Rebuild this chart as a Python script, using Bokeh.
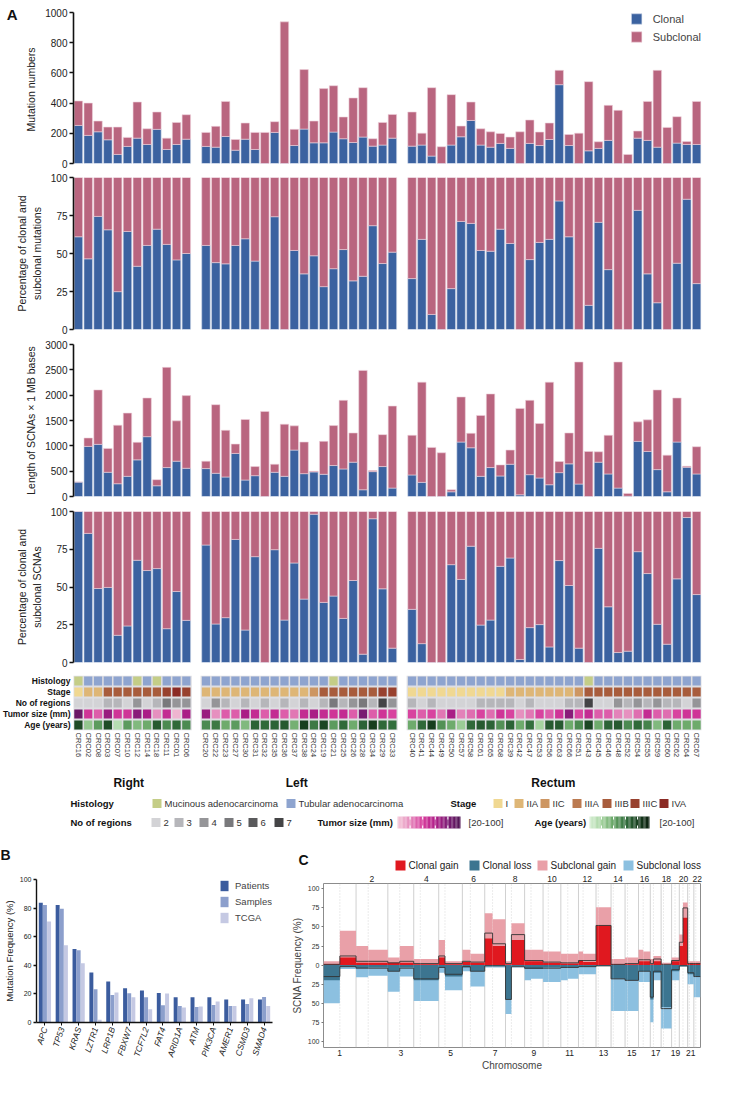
import numpy as np
from bokeh.plotting import figure
from bokeh.models import (Range1d, FactorRange, FixedTicker, Legend, LegendItem,
                          LinearAxis, ColumnDataSource)
from bokeh.transform import dodge
from bokeh.layouts import column, row
from bokeh.core.properties import value
from bokeh.embed import file_html
from bokeh.resources import INLINE

FONT = "Liberation Sans, Arial, Helvetica, sans-serif"
CLONAL = "#3b62a0"
SUBCLONAL = "#b9657f"

# ---------------- Panel A data ----------------
right_samples = ["CRC16", "CRC02", "CRC08", "CRC03", "CRC07", "CRC10", "CRC12", "CRC14", "CRC18",
                 "CRC11", "CRC01", "CRC06"]
left_samples = ["CRC20", "CRC22", "CRC23", "CRC27", "CRC30", "CRC31", "CRC32", "CRC35", "CRC36",
                "CRC37", "CRC38", "CRC24", "CRC19", "CRC21", "CRC25", "CRC26", "CRC28", "CRC34",
                "CRC29", "CRC33"]
rectum_samples = ["CRC40", "CRC41", "CRC44", "CRC49", "CRC50", "CRC57", "CRC58", "CRC61", "CRC65",
                  "CRC68", "CRC39", "CRC42", "CRC47", "CRC53", "CRC56", "CRC63", "CRC66", "CRC51",
                  "CRC43", "CRC45", "CRC46", "CRC48", "CRC52", "CRC54", "CRC55", "CRC59", "CRC60",
                  "CRC62", "CRC64", "CRC67"]
group_names = ["Right", "Left", "Rectum"]

mutation_total = [414, 400, 281, 241, 241, 173, 407, 230, 341, 168, 272, 323,
                  206, 246, 411, 159, 268, 206, 206, 277, 938, 226, 622, 281, 496, 515, 308, 434, 502, 164, 272, 325,
                  341, 201, 502, 111, 456, 248, 407, 230, 210, 199, 175, 210, 288, 208, 268, 617, 192, 201, 542, 144,
                  385, 352, 60, 215, 411, 617, 239, 310, 146, 411]
mutation_clonal = [252, 186, 210, 157, 60, 113, 168, 126, 226, 93, 126, 161,
                   113, 108, 179, 88, 161, 93, 0, 206, 0, 119, 228, 137, 137, 208, 164, 139, 175, 115, 122, 168,
                   115, 122, 49, 0, 122, 177, 285, 122, 108, 133, 100, 0, 133, 119, 159, 522, 119, 0, 84, 100,
                   153, 0, 0, 168, 153, 108, 0, 135, 126, 126]
mutation_clonal_pct = [61, 46.5, 74.4, 65.6, 24.9, 64.5, 41.6, 55.3, 66, 56, 45.8, 50,
                       55.3, 44, 43.2, 55.3, 59.7, 45, 0, 74.2, 0, 52, 36.6, 48.5, 28.2, 40, 52.6, 32, 35, 68.3, 43.4, 50.9,
                       33.5, 59.3, 9.9, 0, 26.9, 71.1, 69.8, 52, 51.5, 66, 56.6, 0, 46, 57.3, 59.3, 84.6, 61, 0, 15.9, 70.5,
                       39.4, 0, 0, 78.4, 36.6, 17.6, 0, 43.6, 85.7, 30.2]
scna_total = [285, 1155, 2104, 949, 1407, 1646, 1069, 1945, 332, 2549, 1493, 1991,
              697, 1812, 1307, 1035, 1520, 591, 1679, 637, 1427, 1394, 1075, 498, 1088, 1400, 1898, 1254, 2489, 511, 1221, 1785,
              1208, 2257, 969, 863, 133, 1965, 1248, 1600, 2024, 624, 916, 1739, 1898, 1440, 2257, 690, 1254, 2655, 889, 883,
              1208, 2655, 60, 1473, 1513, 2104, 816, 1945, 597, 982]
scna_clonal = [285, 989, 1029, 478, 252, 398, 723, 1181, 212, 571, 697, 557,
               551, 458, 385, 850, 325, 411, 0, 478, 398, 916, 451, 485, 438, 611, 544, 677, 133, 491, 591, 166,
               425, 279, 0, 0, 93, 1075, 962, 398, 571, 405, 637, 33, 431, 365, 232, 471, 644, 246, 0, 677,
               445, 166, 5, 1088, 889, 531, 93, 1075, 577, 445]
scna_clonal_pct = [100, 85.5, 49, 49.7, 18, 24.2, 67.7, 60.9, 62.2, 22.4, 47, 27.9,
                   77.8, 25.5, 29.7, 81.5, 21.5, 70.1, 0, 74.7, 28.1, 65.9, 42, 98.2, 39.8, 44, 29.2, 54.3, 5.5, 95.2, 48.8, 9.5,
                   35.2, 12.5, 0, 0, 64.8, 55, 77, 24.8, 28.1, 63.7, 69.2, 2, 23.1, 25.1, 10.3, 67.5, 51, 9.5, 0, 75.6,
                   36.9, 6.6, 7.5, 73.4, 58.9, 25.3, 12.1, 55.4, 96, 45]
histology = ["M", "T", "T", "T", "T", "T", "M", "T", "M", "T", "T", "T",
             "T", "T", "T", "T", "T", "T", "T", "T", "T", "T", "T", "T", "T", "M", "T", "T", "T", "T", "T", "T",
             "T", "T", "T", "T", "T", "T", "T", "T", "T", "T", "T", "T", "T", "T", "T", "T", "T", "T", "M", "T",
             "T", "T", "T", "T", "T", "T", "T", "T", "T", "T"]
stage = ["I", "IIA", "IIA", "IIIB", "IIIB", "IIIB", "IIIB", "IIIB", "IIIB", "IIIC", "IVA", "IIIC",
         "IIA", "IIA", "IIA", "IIA", "IIA", "IIA", "IIA", "IIA", "IIA", "IIA", "IIA", "IIC", "IIIB", "IIIB",
         "IIIB", "IIIB", "IIIB", "IIIB", "IIIC", "IIIC",
         "I", "I", "I", "I", "I", "I", "I", "I", "I", "I", "IIA", "IIA", "IIA", "IIA", "IIA", "IIA", "IIA",
         "IIC", "IIIB", "IIIB", "IIIB", "IIIB", "IIIB", "IIIB", "IIIB", "IIIB", "IIIB", "IIIB", "IIIB", "IIIB"]
n_regions = [2, 2, 2, 3, 3, 2, 4, 2, 3, 5, 4, 4,
             2, 4, 3, 2, 3, 2, 3, 2, 3, 2, 3, 2, 3, 5, 3, 4, 5, 3, 7, 4,
             3, 2, 3, 2, 2, 2, 2, 3, 3, 3, 3, 2, 3, 2, 2, 2, 3, 3, 7, 2, 2, 4, 3, 4, 3, 4, 3, 3, 2, 4]
tumor_size = [90, 55, 45, 75, 55, 55, 80, 70, 35, 60, 25, 70,
              75, 35, 45, 45, 70, 60, 45, 60, 45, 40, 60, 70, 60, 55, 60, 45, 85, 45, 55, 50,
              50, 45, 50, 40, 70, 38, 42, 50, 42, 55, 50, 35, 40, 50, 45, 55, 80, 50, 60, 45,
              45, 38, 35, 42, 60, 45, 42, 50, 55, 55]
age = [80, 40, 55, 80, 30, 55, 45, 50, 75, 60, 70, 60,
       60, 65, 50, 55, 45, 72, 70, 72, 75, 48, 85, 65, 82, 55, 70, 50, 72, 85, 70, 68,
       50, 70, 85, 58, 50, 38, 70, 75, 72, 58, 72, 50, 68, 35, 75, 75, 50, 60, 82, 50,
       72, 75, 60, 70, 62, 45, 72, 50, 50, 50]

# ---------------- Panel B data ----------------
genes = ["APC", "TP53", "KRAS", "LZTR1", "LRP1B", "FBXW7", "TCF7L2", "FAT4", "ARID1A", "ATM",
         "PIK3CA", "AMER1", "CSMD3", "SMAD4"]
freq_patients = [83.7, 82.1, 51.4, 34.9, 28.6, 24.0, 22.3, 20.7, 17.7, 17.7, 17.7, 16.0, 16.0, 16.0]
freq_samples = [82.1, 79.5, 50.5, 23.3, 19.3, 20.5, 17.7, 12.1, 11.6, 10.9, 12.3, 11.6, 13.0, 17.9]
freq_tcga = [70.7, 54.0, 41.4, 1.9, 21.0, 17.7, 9.3, 20.2, 10.5, 11.2, 14.7, 11.6, 17.0, 11.6]

# ---------------- Panel C data (per chromosome: p arm, q arm) ----------------
chrom_names = [str(i) for i in range(1, 23)]
chrom_size = [249, 243, 198, 191, 181, 171, 159, 146, 141, 136, 135, 134, 115, 107, 103, 90, 83, 80,
              59, 64, 47, 51]
centromere = [125, 93, 91, 50, 48, 61, 60, 45, 49, 40, 53, 35, 17, 17, 19, 36, 24, 18, 26, 28, 13, 15]
clonal_gain = [(1, 10), (3, 3), (3, 3), (1, 1), (10, 1), (4, 3), (35, 25), (1, 33), (5, 5), (3, 3), (2, 2),
               (6, 4), (52, 52), (1, 1), (1, 1), (5, 5), (1, 5), (0, 0), (5, 5), (25, 62), (2, 2), (2, 2)]
total_gain = [(5, 45), (25, 20), (10, 25), (8, 8), (33, 5), (20, 15), (68, 60), (5, 55), (20, 20), (18, 18),
              (15, 15), (18, 15), (76, 76), (8, 8), (10, 10), (20, 18), (8, 12), (3, 3), (10, 10), (40, 82),
              (5, 5), (5, 5)]
clonal_loss = [(20, 2), (4, 3), (8, 3), (20, 20), (3, 15), (3, 8), (1, 1), (45, 1), (5, 5), (3, 3), (3, 3),
               (2, 2), (1, 1), (18, 18), (20, 20), (8, 8), (45, 10), (55, 55), (8, 8), (1, 1), (12, 12), (15, 15)]
total_loss = [(50, 5), (16, 14), (35, 15), (47, 47), (10, 33), (8, 28), (3, 3), (64, 3), (20, 18), (22, 22),
              (20, 18), (12, 12), (1, 1), (60, 60), (60, 60), (22, 22), (75, 20), (83, 83), (20, 20), (2, 2),
              (25, 25), (42, 42)]
mean_gain = [(1, 12), (5, 5), (3, 5), (2, 2), (12, 2), (5, 4), (42, 28), (2, 40), (6, 6), (4, 4), (3, 3),
             (6, 6), (52, 52), (1, 1), (2, 2), (7, 7), (2, 8), (1, 1), (6, 6), (30, 75), (2, 2), (2, 2)]
mean_loss = [(15, 2), (4, 4), (8, 4), (18, 18), (3, 12), (2, 8), (1, 1), (45, 2), (4, 4), (4, 4), (3, 3),
             (2, 2), (1, 1), (18, 18), (20, 20), (8, 8), (42, 8), (57, 57), (6, 6), (1, 1), (10, 10), (15, 15)]

# ---------------- helpers ----------------
def hex2rgb(h):
    return np.array([int(h[i:i + 2], 16) for i in (1, 3, 5)], dtype=float)


def interp_color(stops, t):
    t = min(max(t, 0.0), 1.0)
    pos = t * (len(stops) - 1)
    i = min(int(pos), len(stops) - 2)
    f = pos - i
    c = hex2rgb(stops[i]) * (1 - f) + hex2rgb(stops[i + 1]) * f
    return "#%02x%02x%02x" % tuple(int(round(v)) for v in c)


TUMOR_STOPS = ["#f4c8d8", "#e58cbd", "#d6399b", "#b01e88", "#7c1b74", "#4f1553"]
AGE_STOPS = ["#d7efd4", "#a3d29d", "#66a565", "#336f3d", "#18401f", "#0c200f"]
HIST_COLORS = {"M": "#c4cd87", "T": "#8ea4cf"}
HIST_LABELS = {"M": "Mucinous adenocarcinoma", "T": "Tubular adenocarcinoma"}
STAGE_ORDER = ["I", "IIA", "IIC", "IIIA", "IIIB", "IIIC", "IVA"]
STAGE_COLORS = ["#f0d892", "#deb676", "#cd9662", "#bb7a50", "#a85c3c", "#98412e", "#8b2a24"]
REGION_LEVELS = [2, 3, 4, 5, 6, 7]
REGION_COLORS = ["#d3d3d6", "#b6b6ba", "#959598", "#79797c", "#5a5a5c", "#444446"]
C_COLORS = {"Clonal gain": "#e0181f", "Clonal loss": "#3c7590",
            "Subclonal gain": "#e9a0a8", "Subclonal loss": "#8cc0e0"}

groups = [right_samples, left_samples, rectum_samples]
xpos = []
bounds = []
off = 0
for g in groups:
    xpos += [off + i for i in range(len(g))]
    bounds.append((off, off + len(g) - 1))
    off += len(g) + 1
NX = off - 1
samples = right_samples + left_samples + rectum_samples

FL, FR, FW = 69, 19, 632


def style_yaxis(ax, label, ticks, label_size="10.5px", tick_size="10px"):
    ax.ticker = FixedTicker(ticks=list(ticks))
    ax.axis_label = label
    ax.axis_label_text_font = FONT
    ax.axis_label_text_font_style = "normal"
    ax.axis_label_text_font_size = label_size
    ax.axis_label_text_color = "#222222"
    ax.major_label_text_font = FONT
    ax.major_label_text_font_size = tick_size
    ax.major_label_text_color = "#222222"
    ax.axis_line_width = 1.6
    ax.axis_line_color = "#111111"
    ax.major_tick_line_width = 1.6
    ax.major_tick_line_color = "#111111"
    ax.major_tick_in = 0
    ax.major_tick_out = 4
    ax.minor_tick_line_color = None
    ax.axis_label_standoff = 5
    ax.major_label_standoff = 2


def bar_panel(height, top, bottom, ymax, ticks, label, lower, upper):
    p = figure(width=720, height=height, x_range=Range1d(-0.5, NX - 0.5), y_range=Range1d(0, ymax),
               x_axis_location=None, output_backend="svg", toolbar_location=None,
               min_border_left=FL, min_border_right=FR, min_border_top=top, min_border_bottom=bottom)
    p.grid.visible = False
    p.outline_line_color = None
    style_yaxis(p.yaxis[0], label, ticks)
    src = ColumnDataSource(dict(x=xpos, lo=lower, hi=upper))
    r1 = p.vbar(x="x", bottom=0, top="lo", width=0.86, source=src, fill_color=CLONAL,
                line_color="#c9d3e6", line_width=0.6)
    r2 = p.vbar(x="x", bottom="lo", top="hi", width=0.86, source=src, fill_color=SUBCLONAL,
                line_color="#efd2dc", line_width=0.6)
    return p, r1, r2


p1, r1, r2 = bar_panel(169, 12, 6, 1000, range(0, 1001, 200), "Mutation  numbers",
                       mutation_clonal, mutation_total)
legA = Legend(items=[LegendItem(label="Clonal", renderers=[r1]), LegendItem(label="Subclonal", renderers=[r2])],
              location="top_right", glyph_width=13, glyph_height=13, label_text_font=FONT,
              label_text_font_size="11px", spacing=5, padding=2, margin=0, border_line_color=None,
              background_fill_alpha=0, label_standoff=10)
p1.add_layout(legA)
# panel letter "A" as the single label of an outer left axis
a_axis = LinearAxis(ticker=FixedTicker(ticks=[985]), major_label_overrides={985: "A"},
                    axis_line_color=None, major_tick_line_color=None, minor_tick_line_color=None,
                    major_tick_out=0, major_tick_in=0, major_label_standoff=5,
                    major_label_text_font=FONT, major_label_text_font_style="bold",
                    major_label_text_font_size="15px", major_label_text_color="#111111")
p1.add_layout(a_axis, "left")

p2, _, _ = bar_panel(166, 8, 6, 100, [0, 25, 50, 75, 100], "Percentage of clonal and\nsubclonal mutations",
                     mutation_clonal_pct, [100] * len(samples))
p3, _, _ = bar_panel(167, 9, 6, 3000, range(0, 3001, 500), "Length of SCNAs \u00d7 1 MB bases",
                     scna_clonal, scna_total)
p4, _, _ = bar_panel(167, 9, 7, 100, [0, 25, 50, 75, 100], "Percentage of clonal and\nsubclonal SCNAs",
                     scna_clonal_pct, [100] * len(samples))

# ---------------- annotation tracks ----------------
track_names = ["Age (years)", "Tumor size (mm)", "No of regions", "Stage", "Histology"]
pt = figure(width=720, height=92, x_range=Range1d(-0.5, NX - 0.5), y_range=Range1d(-0.5, 4.5),
            output_backend="svg", toolbar_location=None,
            min_border_left=FL, min_border_right=FR, min_border_top=6, min_border_bottom=31)
pt.grid.visible = False
pt.outline_line_color = None
for a, b in bounds:
    pt.quad(left=a - 0.55, right=b + 0.55, bottom=-0.5, top=4.5, fill_color="#dedee2", line_color=None)
row_colors = {
    4: [HIST_COLORS[h] for h in histology],
    3: [STAGE_COLORS[STAGE_ORDER.index(s)] for s in stage],
    2: [REGION_COLORS[REGION_LEVELS.index(r)] for r in n_regions],
    1: [interp_color(TUMOR_STOPS, (v - 20) / 80.0) for v in tumor_size],
    0: [interp_color(AGE_STOPS, (v - 20) / 80.0) for v in age],
}
for yrow, cols in row_colors.items():
    pt.rect(x=xpos, y=[yrow] * len(xpos), width=0.84, height=0.8, fill_color=cols, line_color=None)
ya = pt.yaxis[0]
ya.ticker = FixedTicker(ticks=[0, 1, 2, 3, 4])
ya.major_label_overrides = {i: n for i, n in enumerate(track_names)}
ya.major_label_text_font = FONT
ya.major_label_text_font_style = "bold"
ya.major_label_text_font_size = "8.5px"
ya.major_label_text_color = "#111111"
ya.axis_line_color = None
ya.major_tick_line_color = None
ya.minor_tick_line_color = None
ya.major_tick_out = 0
ya.major_tick_in = 0
ya.major_label_standoff = 3
xa = pt.xaxis[0]
xa.ticker = FixedTicker(ticks=xpos)
xa.major_label_overrides = {x: s for x, s in zip(xpos, samples)}
xa.major_label_orientation = "vertical"
xa.major_label_text_font = FONT
xa.major_label_text_font_size = "7.5px"
xa.major_label_text_color = "#333333"
xa.axis_line_color = None
xa.major_tick_line_color = None
xa.minor_tick_line_color = None
xa.major_tick_out = 0
xa.major_tick_in = 0
xa.major_label_standoff = 2

# ---------------- legend strip (window coordinates) ----------------
pl = figure(width=720, height=110, x_range=Range1d(8, 728), y_range=Range1d(872, 762),
            x_axis_location=None, y_axis_location=None, output_backend="svg", toolbar_location=None,
            min_border=0, min_border_left=0, min_border_right=0, min_border_top=0, min_border_bottom=0,
            frame_align=False)
pl.grid.visible = False
pl.outline_line_color = None
X0 = 8 + FL
PITCH = FW / NX
gx = []
for a, b in bounds:
    gx.append(X0 + ((a + b) / 2.0 + 0.5) * PITCH)
pl.text(x=gx, y=[783] * 3, text=group_names, text_align="center", text_baseline="middle",
        text_font=value(FONT), text_font_style="bold", text_font_size=value("12px"), text_color="#111111")

R1, R2 = 804, 823
FS = value("9.5px")
heads = [("Histology", 78, R1), ("Stage", 458, R1), ("No of regions", 78, R2),
         ("Tumor size (mm)", 325, R2), ("Age (years)", 542, R2)]
pl.text(x=[h[1] for h in heads], y=[h[2] for h in heads], text=[h[0] for h in heads],
        text_align="left", text_baseline="middle", text_font=value(FONT), text_font_style="bold",
        text_font_size=FS, text_color="#111111")
sw_x, sw_y, sw_c, lab_x, lab_y, lab_t = [], [], [], [], [], []
for key, sx in zip(["M", "T"], [160, 294]):
    sw_x.append(sx); sw_y.append(R1); sw_c.append(HIST_COLORS[key])
    lab_x.append(sx + 12); lab_y.append(R1); lab_t.append(HIST_LABELS[key])
for st, col, sx in zip(STAGE_ORDER, STAGE_COLORS, [501, 522, 548, 580, 610, 638, 667]):
    sw_x.append(sx); sw_y.append(R1); sw_c.append(col)
    lab_x.append(sx + 12); lab_y.append(R1); lab_t.append(st)
for lv, col, sx in zip(REGION_LEVELS, REGION_COLORS, [159, 182, 207, 232, 256, 282]):
    sw_x.append(sx); sw_y.append(R2); sw_c.append(col)
    lab_x.append(sx + 12); lab_y.append(R2); lab_t.append(str(lv))
pl.rect(x=[v + 4.5 for v in sw_x], y=sw_y, width=9, height=9, fill_color=sw_c, line_color=None)
pl.text(x=lab_x, y=lab_y, text=lab_t, text_align="left", text_baseline="middle",
        text_font=value(FONT), text_font_size=FS, text_color="#333333")


def gradient_bar(p, x0, x1, yc, h, stops):
    n = 48
    edges = np.linspace(x0, x1, n + 1)
    cols = [interp_color(stops, (i + 0.5) / n) for i in range(n)]
    p.quad(left=edges[:-1], right=edges[1:], top=yc - h / 2, bottom=yc + h / 2, fill_color=cols, line_color=None)
    tx = list(np.linspace(x0, x1, 6)[1:-1])
    p.segment(x0=tx, x1=tx, y0=[yc - h / 2] * 4, y1=[yc - h / 2 + 3] * 4, line_color="white", line_width=1)
    p.segment(x0=tx, x1=tx, y0=[yc + h / 2] * 4, y1=[yc + h / 2 - 3] * 4, line_color="white", line_width=1)


gradient_bar(pl, 405, 468, R2, 12, TUMOR_STOPS)
gradient_bar(pl, 597, 657, R2, 12, AGE_STOPS)
pl.text(x=[476, 667], y=[R2, R2], text=["[20-100]", "[20-100]"], text_align="left", text_baseline="middle",
        text_font=value(FONT), text_font_size=FS, text_color="#333333")

# panel letters B, C and the panel C legend
pl.text(x=[8, 306], y=[847, 852], text=["B", "C"], text_align="left", text_baseline="top",
        text_font=value(FONT), text_font_style="bold", text_font_size=value("14px"), text_color="#111111")
c_items = ["Clonal gain", "Clonal loss", "Subclonal gain", "Subclonal loss"]
c_box_x = [403, 477, 545, 631]
pl.rect(x=[v + 5 for v in c_box_x], y=[866] * 4, width=10, height=10,
        fill_color=[C_COLORS[k] for k in c_items], line_color=None)
pl.text(x=[v + 13 for v in c_box_x], y=[866] * 4, text=c_items, text_align="left", text_baseline="middle",
        text_font=value(FONT), text_font_size=value("10px"), text_color="#222222")

# ---------------- Panel B ----------------
pb = figure(width=288, height=204, x_range=FactorRange(*genes), y_range=Range1d(0, 100),
            output_backend="svg", toolbar_location=None, frame_align=False,
            min_border_left=30, min_border_right=16, min_border_top=8, min_border_bottom=53)
pb.grid.visible = False
pb.outline_line_color = None
srcb = ColumnDataSource(dict(gene=genes, pat=freq_patients, sam=freq_samples, tcga=freq_tcga))
rb1 = pb.vbar(x=dodge("gene", -0.245, range=pb.x_range), top="pat", width=0.235, source=srcb,
              fill_color="#3b5c9e", line_color=None)
rb2 = pb.vbar(x=dodge("gene", 0.0, range=pb.x_range), top="sam", width=0.235, source=srcb,
              fill_color="#8c9fcc", line_color=None)
rb3 = pb.vbar(x=dodge("gene", 0.245, range=pb.x_range), top="tcga", width=0.235, source=srcb,
              fill_color="#c5c9e3", line_color=None)
style_yaxis(pb.yaxis[0], "Mutation Frequency (%)", range(0, 101, 20), label_size="9.5px", tick_size="7px")
pb.yaxis[0].major_tick_out = 3
pb.yaxis[0].axis_label_standoff = 2
pb.yaxis[0].axis_line_width = 1.4
bx = pb.xaxis[0]
bx.major_label_orientation = 1.25
bx.major_label_text_font = FONT
bx.major_label_text_font_style = "italic"
bx.major_label_text_font_size = "8.5px"
bx.major_label_text_color = "#222222"
bx.axis_line_width = 1.4
bx.axis_line_color = "#111111"
bx.major_tick_line_color = "#111111"
bx.major_tick_out = 3
bx.major_tick_in = 0
bx.major_label_standoff = 2
legB = Legend(items=[LegendItem(label="Patients", renderers=[rb1]), LegendItem(label="Samples", renderers=[rb2]),
                     LegendItem(label="TCGA", renderers=[rb3])],
              location="top_right", glyph_width=10, glyph_height=13, label_text_font=FONT,
              label_text_font_size="9.5px", spacing=3, padding=1, margin=0, border_line_color=None,
              background_fill_alpha=0, label_standoff=6)
pb.add_layout(legB)

# ---------------- Panel C ----------------
size_arr = np.array(chrom_size, dtype=float)
starts = np.concatenate([[0.0], np.cumsum(size_arr)[:-1]])
ends = starts + size_arr
cens = starts + np.array(centromere, dtype=float)
GENOME = float(ends[-1])
arm_l = np.ravel(np.column_stack([starts, cens]))
arm_r = np.ravel(np.column_stack([cens, ends]))


def flat(pairs):
    return np.ravel(np.array(pairs, dtype=float))


pc = figure(width=432, height=204, x_range=Range1d(0, GENOME), y_range=Range1d(-108, 107),
            output_backend="svg", toolbar_location=None, frame_align=False,
            min_border_left=29, min_border_right=20, min_border_top=12, min_border_bottom=28)
pc.grid.visible = False
pc.outline_line_color = "#8c8c8c"
pc.outline_line_width = 1
pc.segment(x0=list(ends[:-1]), x1=list(ends[:-1]), y0=-108, y1=107, line_color="#c4c4c4", line_width=0.8)
pc.segment(x0=list(cens), x1=list(cens), y0=-108, y1=107, line_color="#c8c8c8", line_width=0.7,
           line_dash="1 2")
pc.quad(left=arm_l, right=arm_r, bottom=0, top=flat(total_gain), fill_color=C_COLORS["Subclonal gain"],
        line_color=None)
pc.quad(left=arm_l, right=arm_r, bottom=0, top=flat(clonal_gain), fill_color=C_COLORS["Clonal gain"],
        line_color=None)
pc.quad(left=arm_l, right=arm_r, top=0, bottom=-flat(total_loss), fill_color=C_COLORS["Subclonal loss"],
        line_color=None)
pc.quad(left=arm_l, right=arm_r, top=0, bottom=-flat(clonal_loss), fill_color=C_COLORS["Clonal loss"],
        line_color=None)
lx = np.ravel(np.column_stack([arm_l, arm_r]))
pc.line(x=lx, y=np.repeat(flat(mean_gain), 2), line_color="#333333", line_width=0.9)
pc.line(x=lx, y=-np.repeat(flat(mean_loss), 2), line_color="#333333", line_width=0.9)

centers = [int(round(v)) for v in (starts + ends) / 2]
cy = pc.yaxis[0]
cy.ticker = FixedTicker(ticks=list(range(-100, 101, 25)))
cy.major_label_overrides = {v: str(abs(v)) for v in range(-100, 101, 25)}
cy.axis_label = "SCNA Frequency (%)"
cy.axis_label_text_font = FONT
cy.axis_label_text_font_style = "normal"
cy.axis_label_text_font_size = "10px"
cy.axis_label_standoff = 2
cy.major_label_text_font = FONT
cy.major_label_text_font_size = "7px"
cy.major_label_text_color = "#333333"
cy.axis_line_color = None
cy.major_tick_line_color = "#777777"
cy.major_tick_out = 2
cy.major_tick_in = 0
cy.minor_tick_line_color = None
cy.major_label_standoff = 2

cxb = pc.xaxis[0]
cxb.ticker = FixedTicker(ticks=centers[0::2])
cxb.major_label_overrides = {c: n for c, n in zip(centers[0::2], chrom_names[0::2])}
cxt = LinearAxis(ticker=FixedTicker(ticks=centers[1::2]),
                 major_label_overrides={c: n for c, n in zip(centers[1::2], chrom_names[1::2])})
pc.add_layout(cxt, "above")
for ax in (cxb, cxt):
    ax.major_label_text_font = FONT
    ax.major_label_text_font_size = "8.5px"
    ax.major_label_text_color = "#222222"
    ax.axis_line_color = None
    ax.major_tick_line_color = None
    ax.minor_tick_line_color = None
    ax.major_tick_out = 0
    ax.major_tick_in = 0
    ax.major_label_standoff = 2
cxb.axis_label = "Chromosome"
cxb.axis_label_text_font = FONT
cxb.axis_label_text_font_style = "normal"
cxb.axis_label_text_font_size = "10px"
cxb.axis_label_standoff = 1

layout = column(p1, p2, p3, p4, pt, pl, row(pb, pc, spacing=0), spacing=0)
open("out.html", "w").write(file_html(layout, INLINE))
